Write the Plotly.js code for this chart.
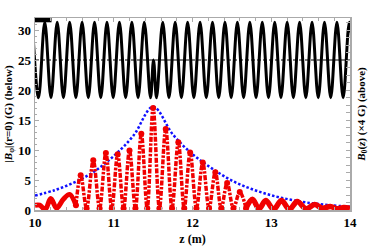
<!DOCTYPE html>
<html><head><meta charset="utf-8">
<script src="https://cdn.plot.ly/plotly-3.0.1.min.js"></script>
<style>html,body{margin:0;padding:0;background:#fff}#c{width:369px;height:246px}</style>
</head><body><div id="c"></div>
<script>
// B0(z) on-axis field (shown above), values in plot units
const sineZ = [9.966,10.045,10.124,10.203,10.282,10.361,10.440,10.519,10.598,10.677,10.756,10.835,10.914,10.993,11.072,11.151,11.230,11.309,11.388,11.467,11.505,11.543,11.622,11.701,11.780,11.859,11.938,12.017,12.096,12.175,12.254,12.333,12.412,12.491,12.570,12.649,12.728,12.807,12.886,12.965,13.044,13.123,13.202,13.281,13.360,13.439,13.518,13.597,13.676,13.755,13.834,13.913,13.992,14.071];
const sineV = [31.3,18.7,31.3,18.7,31.3,18.7,31.3,18.7,31.3,18.7,31.3,18.7,31.3,18.7,31.3,18.7,31.3,18.7,31.3,18.7,25.0,18.7,31.3,18.7,31.3,18.7,31.3,18.7,31.3,18.7,31.3,18.7,31.3,18.7,31.3,18.7,31.3,18.7,31.3,18.7,31.3,18.7,31.3,18.7,31.3,18.7,31.3,18.7,31.3,18.7,31.3,18.7,31.3,18.7];
const refZ = [10, 14];
const refV = [25, 25];
const barZ = [10, 10.21];
const barV = [31.7, 31.7];
// |B_phi|(r=0) below
const redLeftZ = [10.0,10.06,10.13,10.2,10.275,10.36,10.44,10.52];
const redLeftV = [0.8,0.8,0.1,1.9,0.3,1.8,2.6,0.8];
const redMidZ = [10.52,10.58,10.655,10.74,10.82,10.90,10.975,11.05,11.125,11.20,11.275,11.35,11.425,11.50,11.58,11.66,11.74,11.82,11.895,11.97,12.05,12.13,12.21,12.29,12.365,12.44,12.52,12.60,12.68];
const redMidV = [0.8,5.8,0.3,8.3,0.3,9.5,0.3,9.3,0.3,9.9,0.3,12.7,0.3,17.0,0.3,13.5,0.3,11.3,0.3,9.6,0.3,7.9,0.3,6.3,0.3,4.5,0.3,3.0,0.3];
const redRightZ = [12.68,12.76,12.845,12.93,13.03,13.13,13.23,13.33,13.44,13.55,13.65,13.75,13.84,13.92,14.0];
const redRightV = [0.3,1.8,0.2,1.6,0.1,1.6,0.1,1.4,0.2,0.9,0.3,0.6,0.2,0.4,0.3];
// envelope (blue dotted)
const envZ = [10,10.25,10.5,10.75,11,11.25,11.5,11.75,12,12.25,12.5,12.75,13,13.25,13.5,13.75,14];
const envV = [2.4,3.3,4.6,6.4,9.0,12.4,17.2,12.6,9.3,6.9,4.9,3.5,2.45,1.7,1.15,0.8,0.55];
const xTicks = [10,11,12,13,14];
const yTicks = [0,5,10,15,20,25,30];

const RED = '#f00000';
const F = 'Liberation Serif, Times New Roman, serif';
const traces = [
  {x: refZ, y: refV, mode:'lines', line:{color:'#000', width:1, dash:'4px,2px'}, hoverinfo:'skip'},
  {x: sineZ, y: sineV, mode:'lines', line:{color:'#000', width:3, shape:'spline', smoothing:1}},
  {x: barZ, y: barV, mode:'lines', line:{color:'#000', width:5}},
  {x: envZ, y: envV, mode:'lines', line:{color:'#1010ff', width:2.5, dash:'2.5px,2px', shape:'spline'}},
  {x: redLeftZ, y: redLeftV, mode:'lines', line:{color:RED, width:5, shape:'spline'}},
  {x: redMidZ, y: redMidV, mode:'lines+markers', line:{color:RED, width:3.5, dash:'5px,1.5px,2.5px,1.5px', shape:'spline', smoothing:1}, marker:{color:RED, size:6}},
  {x: redRightZ, y: redRightV, mode:'lines', line:{color:RED, width:5.5, shape:'spline'}},
  {x: [10], y:[0], yaxis:'y2', mode:'markers', marker:{opacity:0}, hoverinfo:'skip'}
];
const ax = {showgrid:false, zeroline:false, showline:true, linecolor:'#aaa', linewidth:1.5,
  ticks:'inside', tickcolor:'#aaa', ticklen:4, tickwidth:1,
  tickfont:{family:F, size:13, color:'#000', weight:'bold'}};
const layout = {
  width:369, height:246, margin:{l:35, r:19, t:18, b:36},
  paper_bgcolor:'#fff', plot_bgcolor:'#fff', showlegend:false,
  xaxis: Object.assign({}, ax, {range:[10,14], tickvals:xTicks, mirror:'ticks',
     minor:{dtick:0.2, ticks:'inside', ticklen:3, tickcolor:'#aaa'},
     title:{text:'<b>z (m)</b>', font:{family:F, size:12, color:'#000'}, standoff:6}}),
  yaxis: Object.assign({}, ax, {range:[0,32], tickvals:yTicks,
     minor:{dtick:1, ticks:'inside', ticklen:2, tickcolor:'#aaa'},
     title:{text:'<b>|<i>B</i><sub>φ</sub>|(r=0) (G) (below)</b>', font:{family:F, size:11, color:'#000'}, standoff:3}}),
  yaxis2: Object.assign({}, ax, {overlaying:'y', side:'right', range:[0,25.6], dtick:1, showticklabels:false,
     title:{text:'<b><i>B</i><sub>0</sub>(<i>z</i>) (×4 G) (above)</b>', font:{family:F, size:11, color:'#000'}, standoff:11}})
};
Plotly.newPlot('c', traces, layout, {staticPlot:true});
</script></body></html>
